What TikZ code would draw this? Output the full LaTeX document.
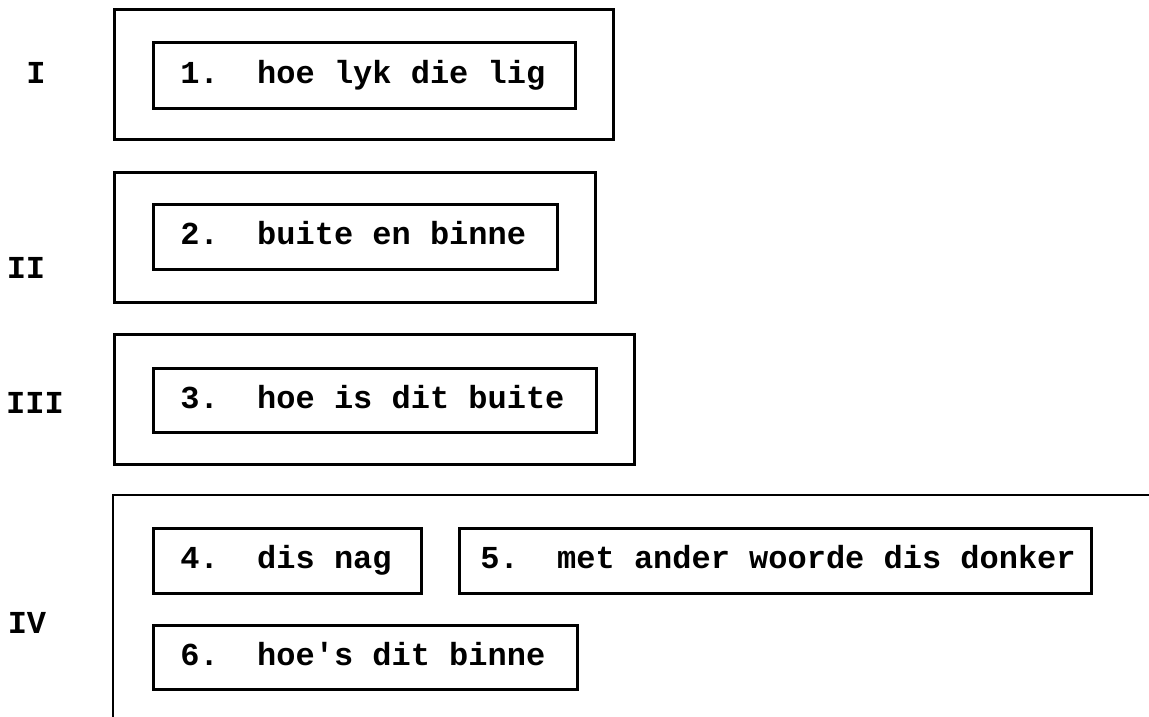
\documentclass[tikz,border=0pt]{standalone}
\usepackage{fontspec}
\setmonofont{Liberation Mono}
\newcommand{\boxfont}{\ttfamily\bfseries\fontsize{32}{38}\selectfont}
\newcommand{\ts}{\hspace*{0.6em}}
\begin{document}
\begin{tikzpicture}[x=1pt,y=-1pt,
  tt/.style={font=\boxfont},
  boxline/.style={line width=2.8pt},
  outerbox/.style={draw, boxline, inner sep=0pt, anchor=north west},
  innerbox/.style={draw, boxline, tt, inner xsep=27pt, inner ysep=0pt,
                   text height=23pt, text depth=7pt, align=left, anchor=north west},
  lbl/.style={tt, inner sep=0pt, anchor=center}]
\useasboundingbox (0,0) rectangle (1149,717);
% outer frames
\node[outerbox, minimum width=499pt, minimum height=130pt] (o1) at (113,8) {};
\node[outerbox, minimum width=481pt, minimum height=130pt] (o2) at (113,171) {};
\node[outerbox, minimum width=520pt, minimum height=130pt] (o3) at (113,333) {};
\coordinate (o4r) at (1151,495);
\coordinate (o4c) at (113,495);
\coordinate (o4b) at (113,719);
\draw[line width=2.8pt, line join=miter] (o4r) -- (o4c) -- (o4b);
% inner boxes
\node[innerbox, text width=368pt, minimum height=66pt] (b1) at (152,41)
  {\mbox{1.\ts\ts hoe\ts lyk\ts die\ts lig}};
\node[innerbox, text width=350pt, minimum height=65pt] (b2) at (152,203)
  {\mbox{2.\ts\ts buite\ts en\ts binne}};
\node[innerbox, text width=389pt, minimum height=64pt] (b3) at (152,367)
  {\mbox{3.\ts\ts hoe\ts is\ts dit\ts buite}};
\node[innerbox, text width=214pt, minimum height=65pt] (b4) at (152,527)
  {\mbox{4.\ts\ts dis\ts nag}};
\node[innerbox, inner xsep=21pt, text width=590pt, minimum height=65pt] (b5) at (458,527)
  {\mbox{5.\ts\ts met\ts ander\ts woorde\ts dis\ts donker}};
\node[innerbox, text width=370pt, minimum height=64pt] (b6) at (152,624)
  {\mbox{6.\ts\ts hoe's\ts dit\ts binne}};
% level labels
\node[lbl] (l1) at (36,73) {I};
\node[lbl] (l2) at (26,268) {II};
\node[lbl] (l3) at (35,403) {III};
\node[lbl] (l4) at (27,623) {IV};
\end{tikzpicture}
\end{document}
